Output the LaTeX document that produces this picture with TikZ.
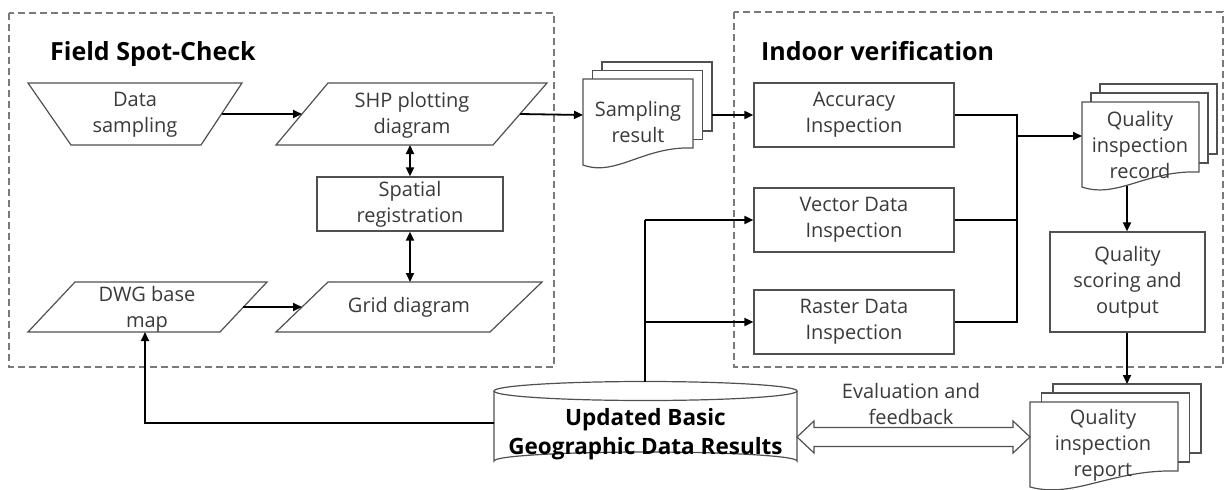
\documentclass[tikz,border=0pt]{standalone}
\usepackage{fontspec}
\setmainfont{Open Sans}
\usetikzlibrary{arrows.meta,calc}

\definecolor{edge}{HTML}{505050}
\definecolor{ink}{HTML}{3A3A3A}
\definecolor{frame}{HTML}{7A7A7A}

\tikzset{
  outline/.style={draw=edge, line width=1.2pt, fill=white},
  txt/.style={align=center, text=ink, font=\fontsize{20}{26}\selectfont, inner sep=0pt},
  boxnode/.style={outline, txt, minimum width=200pt, minimum height=64pt},
  ttl/.style={font=\bfseries\fontsize{25}{30}\selectfont, text=black, inner sep=0pt, anchor=base west},
  region/.style={draw=frame, line width=1.4pt, dash pattern=on 7pt off 4pt},
  link/.style={line width=1.8pt, draw=black},
  arr/.style={link, -{Triangle[length=9pt,width=8pt]}},
  arrboth/.style={link, {Triangle[length=9pt,width=8pt]}-{Triangle[length=9pt,width=8pt]}},
}

% stack of three pages with a wavy front edge:
% #1 left, #2 top, #3 right, #4 front bottom (left end), #5 front bottom (right end), #6 dx, #7 dy
\newcommand{\pagestack}[7]{%
  \draw[outline] ({#1+2*#6},{#2-2*#7}) rectangle ({#3+2*#6},{#5-2*#7});
  \draw[outline] ({#1+#6},{#2-#7}) rectangle ({#3+#6},{#5-#7});
  \draw[outline] (#1,#2) -- (#3,#2) -- (#3,#5)
     .. controls ({#1+0.55*(#3-#1)},{#5-2}) and ({#1+0.3*(#3-#1)},{#4+12}) .. (#1,#4) -- cycle;
}

\begin{document}
\begin{tikzpicture}[x=1pt,y=-1pt]
\useasboundingbox (0,0) rectangle (1227,490);

% group frames
\draw[region] (9,13) rectangle (554,367);
\draw[region] (734,12) rectangle (1223,367);
\node[ttl] (t1) at (50,60) {Field Spot-Check};
\node[ttl] (t2) at (761,60) {Indoor verification};

% ---------- field spot-check ----------
\draw[outline] (28,83) -- (242,83) -- (201,145) -- (71,145) -- cycle;
\node[txt] (samp) at (135,115) {Data\\sampling};
\coordinate (samp-e) at (221.5,114);

\draw[outline] (328,83) -- (547,83) -- (493,145) -- (276,145) -- cycle;
\node[txt] (shp) at (412,115) {SHP plotting\\diagram};
\coordinate (shp-w) at (302,114);
\coordinate (shp-e) at (520,114);
\coordinate (shp-s) at (410,145);

\node[boxnode, minimum width=186pt, minimum height=54pt] (spa) at (410,204) {Spatial\\registration};

\draw[outline] (75,282) -- (267,282) -- (220,332) -- (28,332) -- cycle;
\node[txt] (dwg) at (147,309) {DWG base\\map};
\coordinate (dwg-e) at (243,307);
\coordinate (dwg-s) at (145,332);

\draw[outline] (328,282) -- (542,282) -- (490,332) -- (276,332) -- cycle;
\node[txt] (grid) at (409,307) {Grid diagram};
\coordinate (grid-w) at (302,307);
\coordinate (grid-n) at (410,282);

% ---------- sampling result ----------
\pagestack{583}{79}{693}{165}{148}{9.5}{8.5}
\node[txt] (res) at (638,122) {Sampling\\result};
\coordinate (res-w) at (583,115);
\coordinate (res-e) at (712,115);

% ---------- indoor verification ----------
\node[boxnode] (acc) at (854,115) {Accuracy\\Inspection};
\node[boxnode] (vec) at (854,220) {Vector Data\\Inspection};
\node[boxnode] (ras) at (854,322) {Raster Data\\Inspection};

\pagestack{1082}{102}{1199}{187}{172}{9}{9}
\node[txt] (rec) at (1140,145) {Quality\\inspection\\record};
\coordinate (rec-w) at (1082,136);
\coordinate (rec-s) at (1127,186);

\node[boxnode, minimum width=155pt, minimum height=100pt] (scr) at (1127.5,282) {Quality\\scoring and\\output};

% ---------- results store and report ----------
\draw[outline] (494,391) -- (494,461) arc[start angle=180, end angle=360, x radius=151.5, y radius=9] -- (797,391);
\draw[outline] (645.5,391) ellipse[x radius=151.5, y radius=9.5];
\node[align=center, inner sep=0pt, text=black, font=\bfseries\fontsize{22.5}{29}\selectfont] (db) at (645.5,434) {Updated Basic\\Geographic Data Results};
\coordinate (db-n) at (645,381.5);
\coordinate (db-w) at (494,423);
\coordinate (db-e) at (797,437);

\pagestack{1030}{402}{1178}{487}{471}{11.5}{9}
\node[txt] (rep) at (1103,445) {Quality\\inspection\\report};
\coordinate (rep-w) at (1030,437);
\coordinate (rep-n) at (1127,384);

% hollow two-way arrow
\draw[draw=edge, line width=1.2pt, fill=white]
  (db-e) -- ++(17,-16) -- ++(0,6.5) -- ($(rep-w)+(-17,-9.5)$) -- ++(0,-6.5) -- (rep-w)
  -- ++(-17,16) -- ++(0,-6.5) -- ($(db-e)+(17,9.5)$) -- ++(0,6.5) -- cycle;
\node[txt] (fb) at (911,404) {Evaluation and\\feedback};

% ---------- connectors ----------
\draw[arr] (samp-e) -- (shp-w);
\draw[arr] (shp-e) -- (res-w);
\draw[arrboth] (shp-s) -- (spa.north);
\draw[arrboth] (spa.south) -- (grid-n);
\draw[arr] (dwg-e) -- (grid-w);
\draw[arr] (res-e) -- (acc.west);

\coordinate (bus) at (1017,136);
\draw[link] (acc.east) -| (bus |- ras.east) -- (ras.east);
\draw[link] (vec.east) -- (vec.east -| bus);
\draw[arr] (bus) -- (rec-w);
\draw[arr] (rec-s) -- (scr.north -| rec-s);
\draw[arr] (scr.south -| rep-n) -- (rep-n);

\draw[link] (db-n) -- (db-n |- vec.west);
\draw[arr] (db-n |- vec.west) -- (vec.west);
\draw[arr] (db-n |- ras.west) -- (ras.west);
\draw[arr] (db-w) -| (dwg-s);
\end{tikzpicture}
\end{document}
